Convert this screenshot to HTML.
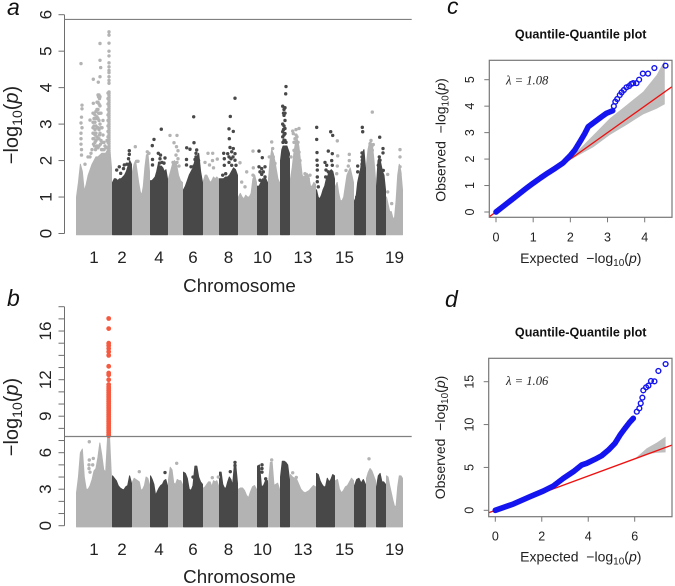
<!DOCTYPE html>
<html lang="en">
<head>
<meta charset="utf-8">
<title>Manhattan and Q-Q plots</title>
<style>
html,body{margin:0;padding:0;background:#fff;}
svg{display:block;font-family:"Liberation Sans",sans-serif;}
</style>
</head>
<body>
<svg id="figure" xmlns="http://www.w3.org/2000/svg" width="675" height="586" viewBox="0 0 675 586">
  <defs>
    <clipPath id="clip-c"><rect x="489.3" y="60.3" width="182.7" height="157"/></clipPath>
    <clipPath id="clip-d"><rect x="488.7" y="358.3" width="183.3" height="158.4"/></clipPath>
  </defs>

  <text x="7" y="15" font-size="23" font-style="italic" fill="#111">a</text>
  <text x="7" y="306" font-size="23" font-style="italic" fill="#111">b</text>
  <text x="447" y="14" font-size="23" font-style="italic" fill="#111">c</text>
  <text x="445" y="307" font-size="23" font-style="italic" fill="#111">d</text>

  <g id="panel-a"></g>
  <g id="panel-b"></g>
  <g id="panel-c"></g>
  <g id="panel-d"></g>

  <text transform="translate(18,125) rotate(-90)" text-anchor="middle" font-size="20" fill="#222">−log<tspan font-size="14" dy="4">10</tspan><tspan dy="-4">(</tspan><tspan font-style="italic">p</tspan>)</text>
  <text transform="translate(18,417) rotate(-90)" text-anchor="middle" font-size="20" fill="#222">−log<tspan font-size="14" dy="4">10</tspan><tspan dy="-4">(</tspan><tspan font-style="italic">p</tspan>)</text>
  <text x="239.5" y="292" text-anchor="middle" font-size="18.8" fill="#222">Chromosome</text>
  <text x="239.5" y="583" text-anchor="middle" font-size="18.8" fill="#222">Chromosome</text>

  <text x="580.7" y="38.7" text-anchor="middle" font-size="12.6" font-weight="bold" fill="#111">Quantile-Quantile plot</text>
  <text x="580.7" y="336.7" text-anchor="middle" font-size="12.6" font-weight="bold" fill="#111">Quantile-Quantile plot</text>
  <text x="506" y="84.3" font-family="'Liberation Serif',serif" font-style="italic" font-size="12.6" fill="#222">λ = 1.08</text>
  <text x="506" y="385" font-family="'Liberation Serif',serif" font-style="italic" font-size="12.6" fill="#222">λ = 1.06</text>

  <text x="580.8" y="263" text-anchor="middle" font-size="14" fill="#222" xml:space="preserve">Expected  −log<tspan font-size="10" dy="3">10</tspan><tspan dy="-3">(</tspan><tspan font-style="italic">p</tspan>)</text>
  <text x="580.8" y="561.7" text-anchor="middle" font-size="14" fill="#222" xml:space="preserve">Expected  −log<tspan font-size="10" dy="3">10</tspan><tspan dy="-3">(</tspan><tspan font-style="italic">p</tspan>)</text>
  <text transform="translate(445.5,140) rotate(-90)" text-anchor="middle" font-size="14" fill="#222" xml:space="preserve">Observed  −log<tspan font-size="10" dy="3">10</tspan><tspan dy="-3">(</tspan><tspan font-style="italic">p</tspan>)</text>
  <text transform="translate(445,437.5) rotate(-90)" text-anchor="middle" font-size="14" fill="#222" xml:space="preserve">Observed  −log<tspan font-size="10" dy="3">10</tspan><tspan dy="-3">(</tspan><tspan font-style="italic">p</tspan>)</text>
</svg>

<script>
/* ---------- genome: chromosome lengths in 3-Mb bins ---------- */
var chromosomeLengths = [36,20,18,18,15,20,16,19,19,11,12,10,26,19,19,12,10,10,17];
var chromosomeTickLabels = ["1","2","4","6","8","10","13","15","19"];

/* ---------- Manhattan a: upper bound of the solid mass, per chromosome ---------- */
var skylineA = [
  [1.0,1.4,1.9,1.7,1.15,1.35,1.6,1.75,1.9,2.0,2.1,2.1,2.15,2.2,2.2,2.2,2.3,2.4,1.8],
  [1.4,1.5,1.5,1.45,1.5,1.5,1.55,1.6,1.7,1.85,2.0,1.9],
  [1.7,1.9,2.0,1.7,1.4,1.15,1.05,1.3,1.8,2.15,2.2,1.7],
  [1.45,1.45,1.5,1.55,1.7,1.9,1.85,1.85,1.8,1.7,1.75,1.5],
  [1.5,1.7,1.9,2.0,1.9,1.6,1.45,1.4],
  [1.2,1.3,1.45,1.6,1.7,1.8,2.0,2.1,2.2,1.7,1.4],
  [1.45,1.6,1.6,1.5,1.4,1.45,1.55,1.5,1.55,1.5],
  [1.5,1.5,1.5,1.55,1.55,1.6,1.7,1.8,1.75,1.6],
  [1.0,1.1,1.0,0.95,1.05,1.0,1.0,1.1,1.5,1.6,1.4],
  [1.3,1.3,1.4,1.5,1.5,1.5,1.4],
  [1.5,2.0,2.3,2.2,2.0,1.75,1.5,1.4],
  [2.0,2.3,2.4,2.4,2.4,2.4,2.3,2.2],
  [1.5,1.8,2.2,2.5,2.6,2.4,2.0,1.6,1.55,1.6,1.65,1.55,1.3,1.3,1.4,1.35],
  [1.2,1.0,0.95,1.05,1.2,1.3,1.5,1.6,1.7,1.75,1.7,1.5],
  [1.3,1.4,1.1,0.9,0.9,1.0,1.3,1.6,1.7,1.8,1.6,1.4],
  [0.9,1.0,1.4,1.6,1.8,2.2,2.3,1.8],
  [1.9,2.3,2.5,2.5,2.4,2.0,1.5],
  [1.3,2.0,2.1,1.9,1.7,1.6,1.2],
  [1.0,0.8,0.6,0.6,0.42,0.42,0.9,1.6,1.9,1.7,1.2]
];

/* Manhattan a: individually visible SNPs as [genome bin, -log10 p] */
var peakBinA = 33;
var peakValuesA = [5.53,5.44,5.22,5.0,4.87,4.68,4.57,4.47,4.41,4.3,4.2,4.12,3.88,3.84,3.78,3.72,3.66,3.6,3.54,3.48,3.42,3.36,3.3,3.24,3.18,3.12,3.06,3.0,2.94,2.88,2.82,2.76,2.7,2.64,2.58,2.52,2.46,2.4,2.34,2.28,2.22,2.16];
var shoulderValuesA = [3.85,3.7,3.55,3.4,3.25,3.1,2.95,2.8,2.65,2.5,2.35,2.2];
var snpsA = [
 [5,4.66],[24,5.21],[24,4.75],[24.7,4.55],[24,4.3],[17.3,4.23],[22.3,4.15],
 [6,3.52],[6,3.42],[5.5,3.19],[5,3.03],[6,2.9],[5,2.75],[5,2.6],[5,2.45],[5.5,2.3],[5.5,2.15],[14,3.11],[17.3,3.57],
 [17,3.3],[17,3.05],[17,2.9],[17,2.75],[17,2.6],[18,3.3],[18,3.15],[18,2.95],[18,2.75],[18,2.6],[19,3.25],[19,3.05],[19,2.85],[19,2.7],[19,2.5],
 [20,3.35],[20,3.15],[20,2.95],[20,2.75],[20,2.55],[21,3.6],[21,3.4],[21,3.2],[21,2.9],[21,2.65],[21,2.4],[22,3.8],[22,3.6],[22,3.4],[22,3.15],[22,2.9],[22,2.6],[22,2.35],
 [23,3.8],[23,3.55],[23,3.3],[23,3.1],[23,2.85],[23,2.6],[23,2.4],[24,3.75],[24,3.5],[24,3.3],[24,3.0],[24,2.75],[25,3.3],[25,2.9],[25,2.55],[26,2.9],[26,2.5],[27,3.1],[27,2.7],[28,2.5],[30,2.35],[31,2.55],[12,2.1],[9,1.9],
 [18.5,2.4],[19.5,2.3],[20.5,2.35],[17.5,2.45],[16,2.3],[15,2.2],[14,2.1],[22.5,3.3],[23.5,3.7],[22.5,3.75],[23.5,2.7],[24.5,2.45],[25.5,2.3],[26.5,2.3],[28,2.3],[29,2.4],[31,2.35],
 [43.3,1.83],[48.3,1.88],[53.3,2.27],[53.3,2.17],[52.5,2.05],[51,1.9],[47.5,1.78],[40.7,1.74],[44.7,1.65],
 [59.3,2.38],[60.7,1.98],[62,1.98],[71.3,2.24],[73,2.2],
 [85.3,2.86],[78,2.58],[76.3,2.41],[76.5,2.03],[76.5,1.88],[82.3,2.2],[84.5,2.15],[89,2.07],[83.5,1.93],[88,1.93],[84,2.05],[86,1.95],
 [94,2.69],[101,2.69],[98,2.49],[100.5,2.38],[102,2.27],[97,1.95],[101,1.95],[103,1.85],[100,2.15],[102,2.05],
 [117.7,3.2],[110.7,2.35],[114,2.31],[118,2.49],[120.7,2.29],[120,2.2],[119,2.03],[122.5,2.0],[118,1.85],[110.5,2.03],[110.5,1.88],[115,1.83],[120,2.1],[121,1.95],
 [132,2.2],[136.7,2.2],[141.3,2.04],[136.5,2.0],[129,1.95],[133.5,1.88],[137.5,1.8],
 [159,3.71],[154.3,3.21],[153,2.87],[157.3,2.8],[153.3,2.6],[154,2.36],[157.3,2.33],[159,2.19],[155.7,2.24],[147.7,2.2],[151.7,2.19],[148.3,2.05],[155,2.05],[159,2.01],[160,1.87],[148.3,1.87],[155.7,1.87],[158.3,1.73],[146.7,1.6],[149.7,1.64],[153,2.1],[157,2.1],[153,1.95],
 [164,1.94],[177,2.26],[177.3,1.8],[170.7,1.69],[165.7,1.41],[169,1.28],[177,1.6],
 [183,2.26],[186.3,2.08],[183,1.83],[185.7,1.78],[189,1.83],[184,1.69],[187.3,1.69],[185.7,1.62],[184,1.46],[189,1.55],
 [195.7,2.51],[196.7,2.33],[193.3,2.1],[197.3,2.1],[195.7,1.92],[199,1.92],
 [210,4.03],[209.7,3.83],[206.7,3.49],[209,3.45],[208,3.24],[209,3.1],[206.7,3.0],[209,2.88],[206.7,2.79],[209,2.74],[206.7,2.65],[208,2.56],[210,2.5],[208,3.4],[207.5,3.3],[209,3.3],[208,2.95],[207.5,2.85],[208,2.7],[207,2.5],[209,2.55],
 [223,2.88],[220,2.85],[216.7,2.81],[220,2.7],[217.3,2.74],[220,2.51],[221.3,2.37],[218,2.28],[223,2.23],[215,2.1],[224,2.0],[221.3,1.87],[229,1.64],[234,1.6],[232.3,1.5],[219,2.6],[221,2.65],[222,2.5],[218,2.5],
 [240.7,2.91],[240.7,2.58],[241,2.22],[241,2.01],[241.3,1.87],[241.3,1.74],[241.3,1.55],[241.3,1.42],[242.3,1.28],
 [254.7,2.79],[256.7,2.69],[252.3,2.26],[256.3,2.19],[255.7,2.0],[256.3,1.87],[249,1.95],[250.7,1.87],[250,1.74],[249.7,1.55],[252.3,1.69],
 [261.3,2.54],[261.7,2.13],[261.3,1.85],[273.3,2.17],[273.3,2.0],[272.3,1.85],[270,1.73],[260.7,1.64],
 [286.3,2.91],[286.7,2.79],[286,2.21],[286.3,2.01],[286.3,1.83],[281.7,1.85],[281.7,1.69],[280.7,1.0],[280,0.87],[286,2.1],[286,1.9],
 [296.3,3.33],[294,2.46],[297.3,2.44],[296.3,2.28],[293.3,2.0],[295,2.55],[296,2.4],
 [303.7,2.64],[307,2.33],[307,2.21],[303.3,2.1],[304,2.01],[302.3,1.87],[305.7,1.73],[307.3,1.73],
 [324,2.3],[324,2.1],[324,1.83],[324,1.64],[311.7,1.62],[311.7,1.14],[315.7,0.82],[320.7,0.5]
];

/* ---------- Manhattan b ---------- */
var skylineB = [
  [2.7,4.0,6.0,6.3,4.0,3.0,3.0,3.3,3.8,4.5,4.7,5.6,6.8,5.8,4.6,4.4,7.3,7.3,3.8],
  [4.1,3.9,3.7,3.3,3.1,3.0,2.95,3.2,3.3,4.1,3.5],
  [3.6,3.9,3.8,3.7,3.6,2.9,3.0,3.3,4.0,3.9,3.4],
  [4.1,3.8,3.4,2.5,2.8,3.1,3.3,3.4,3.7,3.8,3.3],
  [3.8,4.8,4.6,3.5,3.4,3.8,3.7,3.7,3.4],
  [4.4,4.3,3.9,3.0,2.9,3.3,4.9,4.9,4.0,3.6,3.4],
  [3.1,3.2,3.4,3.6,3.6,3.2,3.7,3.6,3.7,3.3],
  [4.4,4.4,3.4,3.1,3.1,3.6,4.0,3.8,3.3,4.9,4.9,3.5],
  [3.0,3.1,3.1,2.9,2.5,2.3,2.8,3.2,3.3,3.0],
  [4.9,5.0,3.2,3.3,3.7,3.7],
  [3.4,5.2,5.2,3.3,3.4,3.5,3.0],
  [4.0,5.3,5.3,5.2,5.0,3.8],
  [4.2,4.0,3.9,3.8,3.4,3.0,2.8,2.7,2.8,2.9,3.1,3.3,3.2],
  [4.3,4.2,3.7,3.4,3.2,3.2,3.9,3.6,3.8,4.2,4.1],
  [3.7,3.8,3.0,2.7,2.9,3.2,3.3,3.6,3.9,3.7],
  [3.3,3.8,3.9,3.5,3.8,3.4],
  [3.9,4.4,4.7,4.5,4.1,3.7],
  [3.2,4.1,4.3,3.6,3.6,3.4],
  [4.1,4.0,3.3,2.7,2.1,1.6,1.6,3.2,4.1,4.1,3.9]
];
var snpsB = [
 [13.3,6.9],[13.3,5.4],[17.3,5.53],[13,5.0],[16.7,5.0],[13,4.7],[14,4.4],
 [63.3,4.44],[100.7,5.13],[89,4.37],[136.3,3.95],[154.3,4.44],[159,5.2],[159,4.95],[189.7,3.85],[216.7,4.35],[220.3,3.97],[120.7,4.2],[117,4.0],
 [293,5.5],[195.7,5.4],[142.3,4.0],[186,5.0],[186,4.7],[186,4.4]
];
var hitBinB = 32.7;
var hitValuesB = [17.03,16.2,15.0,14.8,14.56,14.3,14.0,13.1,12.55,12.4,12.0,11.6,11.4,11.25,11.1,10.95,10.8,10.65,10.5,10.35,10.2,10.05,9.9,9.75,9.6,9.45,9.3,9.15,9.0,8.85,8.7,8.55,8.4,8.25,8.1,7.95,7.8,7.65,7.5,7.4];

var thresholdA = 5.87;
var thresholdB = 7.33;
var yTicksA = [0,1,2,3,4,5,6];
var yTickLabelsA = ["0","1","2","3","4","5","6"];
var yTicksB = [0,1,2,3,4,5,6,7,8,9,10,11,12,13,14,15,16,17,18];
var yTickLabelsB = ["0","","","3","","","6","","","9","","","12","","","","16","",""];

/* ---------- Q-Q c ---------- */
var denseExpectedC = [0,0.2,0.4,0.6,0.8,1,1.2,1.4,1.6,1.8,1.99,2.12,2.26,2.39,2.48,2.66,2.84,2.97,3.14];
var denseObservedC = [0,0.22,0.44,0.66,0.88,1.09,1.29,1.48,1.66,1.85,2.12,2.34,2.66,2.97,3.22,3.41,3.6,3.73,3.83];
var tailExpectedC = [3.17,3.21,3.26,3.33,3.38,3.44,3.51,3.58,3.64,3.69,3.78,3.85,3.95,4.09,4.26,4.56];
var tailObservedC = [4.0,4.17,4.27,4.42,4.52,4.61,4.71,4.76,4.84,4.87,4.87,5.0,5.23,5.23,5.44,5.53];
var bandExpectedC = [1.5,2.0,2.62,3.06,3.51,3.96,4.32,4.54];
var bandUpperC = [1.5,2.03,2.91,3.54,4.04,4.55,5.18,5.74];
var bandLowerC = [1.5,1.97,2.45,2.91,3.29,3.69,3.9,4.07];
var xTicksC = [0,1,2,3,4];
var yTicksC = [0,1,2,3,4,5];

/* ---------- Q-Q d ---------- */
var denseExpectedD = [0,0.78,1.49,2.07,2.5,2.93,3.36,3.72,3.93,4.29,4.58,4.87,5.15,5.37,5.58,5.77,5.94];
var denseObservedD = [0,0.74,1.59,2.25,2.84,3.73,4.51,5.29,5.48,5.95,6.37,7.03,7.81,8.78,9.56,10.22,10.73];
var tailExpectedD = [6.09,6.2,6.26,6.33,6.37,6.49,6.59,6.7,6.85,7.02,7.33];
var tailObservedD = [11.5,11.89,12.48,13.14,13.99,14.34,14.54,15.08,15.04,16.25,17.06];
var bandExpectedD = [6.0,6.52,6.95,7.33];
var bandUpperD = [6.0,7.23,7.89,8.59];
var bandLowerD = [6.0,6.53,6.72,6.76];
var xTicksD = [0,2,4,6];
var yTicksD = [0,5,10,15];

var NS = "http://www.w3.org/2000/svg";
var GRAY = "#b3b3b3", DARK = "#484848", RED = "#f55a40", AXIS = "#6e6e6e", INK = "#222";

function node(tag, attrs, parent) {
  var el = document.createElementNS(NS, tag);
  for (var k in attrs) el.setAttribute(k, attrs[k]);
  parent.appendChild(el);
  return el;
}
function linear(d0, d1, r0, r1) {
  return function (v) { return r0 + (v - d0) * (r1 - r0) / (d1 - d0); };
}
var genomeTotal = chromosomeLengths.reduce(function (a, b) { return a + b; }, 0);
var xGenome = linear(0, genomeTotal, 76, 403);
var chromosomeStarts = [];
chromosomeLengths.reduce(function (acc, len) { chromosomeStarts.push(acc); return acc + len; }, 0);
function colorAt(bin) {
  var idx = 0;
  for (var i = 0; i < chromosomeStarts.length; i++) { if (bin >= chromosomeStarts[i]) idx = i; }
  return idx % 2 === 0 ? GRAY : DARK;
}

function drawManhattan(root, yScale, yTicks, yLabels, skyline, snps, r, threshold, labelX, tickLabelBaseline) {
  var base = yScale(0) + 1.2;
  skyline.forEach(function (vals, i) {
    var start = chromosomeStarts[i], len = chromosomeLengths[i];
    var pts = [];
    var x0 = xGenome(start) + 0.5, x1 = xGenome(start + len) - 0.5;
    pts.push(x0 + "," + base);
    vals.forEach(function (v, j) {
      var x = x0 + (x1 - x0) * j / (vals.length - 1);
      pts.push(x.toFixed(2) + "," + yScale(v).toFixed(2));
    });
    pts.push(x1 + "," + base);
    var col = i % 2 === 0 ? GRAY : DARK;
    var poly = node("polygon", {points: pts.join(" "), fill: col, stroke: col, "stroke-width": 1, "stroke-linejoin": "round"}, root);
    
    
  });
  snps.forEach(function (p) {
    var c = node("circle", {cx: xGenome(p[0]).toFixed(2), cy: yScale(p[1]).toFixed(2), r: r, fill: colorAt(p[0])}, root);
    
    
  });
  var axis = node("line", {x1: 64.5, x2: 64.5, y1: yScale(yTicks[0]), y2: yScale(yTicks[yTicks.length - 1]), stroke: AXIS, "stroke-width": 1}, root);
  
  
  yTicks.forEach(function (t, i) {
    var y = yScale(t);
    var tick = node("line", {x1: 58.5, x2: 64.5, y1: y, y2: y, stroke: AXIS, "stroke-width": 1}, root);
    
    
    if (yLabels[i]) {
      var tx = node("text", {transform: "translate(" + labelX + "," + y + ") rotate(-90)", "text-anchor": "middle", "font-size": 17, fill: INK}, root);
      tx.textContent = yLabels[i];
      
      
    }
  });
  chromosomeTickLabels.forEach(function (lab) {
    var i = parseInt(lab, 10) - 1;
    var mid = chromosomeStarts[i] + chromosomeLengths[i] / 2;
    var tx = node("text", {x: xGenome(mid).toFixed(1), y: tickLabelBaseline, "text-anchor": "middle", "font-size": 17, fill: INK}, root);
    tx.textContent = lab;
    
    
  });
}
function drawThreshold(root, yScale, value) {
  var th = node("line", {x1: 64.5, x2: 411.7, y1: yScale(value), y2: yScale(value), stroke: "#808080", "stroke-width": 1.2}, root);
  
  
}

/* panel a */
var panelA = document.getElementById("panel-a");
var yA = linear(0, 6, 233.5, 14.7);
var allSnpsA = snpsA
  .concat(peakValuesA.map(function (v) { return [peakBinA, v]; }))
  .concat(shoulderValuesA.map(function (v) { return [peakBinA - 1, v]; }));
drawManhattan(panelA, yA, yTicksA, yTickLabelsA, skylineA, allSnpsA, 1.7, thresholdA, 51.7, 263);
drawThreshold(panelA, yA, thresholdA);

/* panel b */
var panelB = document.getElementById("panel-b");
var yB = linear(0, 18, 525.7, 306.7);
drawManhattan(panelB, yB, yTicksB, yTickLabelsB, skylineB, snpsB, 1.7, thresholdB, 51, 555);
hitValuesB.forEach(function (v) {
  var c = node("circle", {cx: xGenome(hitBinB), cy: yB(v).toFixed(2), r: 2.4, fill: RED}, panelB);
  
  
});
drawThreshold(panelB, yB, thresholdB);

function drawQQ(root, cfg) {
  var x = cfg.x, y = cfg.y, b = cfg.box;
  var clipped = node("g", {"clip-path": "url(#" + cfg.clip + ")"}, root);
  var pts = [];
  cfg.bandX.forEach(function (e, i) { pts.push(x(e).toFixed(2) + "," + y(cfg.bandU[i]).toFixed(2)); });
  for (var i = cfg.bandX.length - 1; i >= 0; i--) pts.push(x(cfg.bandX[i]).toFixed(2) + "," + y(cfg.bandL[i]).toFixed(2));
  var band = node("polygon", {points: pts.join(" "), fill: "#bebebe"}, clipped);
  
  
  var ref = node("line", {x1: x(-1), y1: y(-1), x2: x(20), y2: y(20), stroke: "#f01010", "stroke-width": 1.3}, clipped);
  
  
  var d = cfg.denseX.map(function (e, i) { return (i ? "L" : "M") + x(e).toFixed(2) + " " + y(cfg.denseY[i]).toFixed(2); }).join(" ");
  var run = node("path", {d: d, fill: "none", stroke: "#1414f0", "stroke-width": 5.6, "stroke-linecap": "round", "stroke-linejoin": "round"}, clipped);
  
  
  cfg.tailX.forEach(function (e, i) {
    var c = node("circle", {cx: x(e).toFixed(2), cy: y(cfg.tailY[i]).toFixed(2), r: 2.4, fill: "none", stroke: "#1414f0", "stroke-width": 1.4}, clipped);
    
    
  });
  var frame = node("rect", {x: b[0], y: b[1], width: b[2] - b[0], height: b[3] - b[1], fill: "none", stroke: "#777", "stroke-width": 1.2}, root);
  
  
  cfg.xTicks.forEach(function (t) {
    var tick = node("line", {x1: x(t), x2: x(t), y1: b[3], y2: b[3] + 5, stroke: "#777", "stroke-width": 1}, root);
    
    
    var tx = node("text", {x: x(t), y: cfg.xLabelY, "text-anchor": "middle", "font-size": 12.5, fill: INK}, root);
    tx.textContent = String(t);
    
    
  });
  cfg.yTicks.forEach(function (t) {
    var tick = node("line", {x1: b[0] - 5, x2: b[0], y1: y(t), y2: y(t), stroke: "#777", "stroke-width": 1}, root);
    
    
    var tx = node("text", {transform: "translate(" + cfg.yLabelX + "," + y(t) + ") rotate(-90)", "text-anchor": "middle", "font-size": 12.5, fill: INK}, root);
    tx.textContent = String(t);
    
    
  });
}

drawQQ(document.getElementById("panel-c"), {
  x: linear(0, 4, 496, 644.7), y: linear(0, 5, 212, 79.7),
  box: [489.3, 60.3, 672, 217.3], clip: "clip-c",
  bandX: bandExpectedC, bandU: bandUpperC, bandL: bandLowerC,
  denseX: denseExpectedC, denseY: denseObservedC, tailX: tailExpectedC, tailY: tailObservedC,
  xTicks: xTicksC, yTicks: yTicksC, xLabelY: 241.5, yLabelX: 474
});
drawQQ(document.getElementById("panel-d"), {
  x: linear(0, 6, 495.3, 634.7), y: linear(0, 15, 510.3, 381.7),
  box: [488.7, 358.3, 672, 516.7], clip: "clip-d",
  bandX: bandExpectedD, bandU: bandUpperD, bandL: bandLowerD,
  denseX: denseExpectedD, denseY: denseObservedD, tailX: tailExpectedD, tailY: tailObservedD,
  xTicks: xTicksD, yTicks: yTicksD, xLabelY: 540.5, yLabelX: 473.5
});
</script>
</body>
</html>
